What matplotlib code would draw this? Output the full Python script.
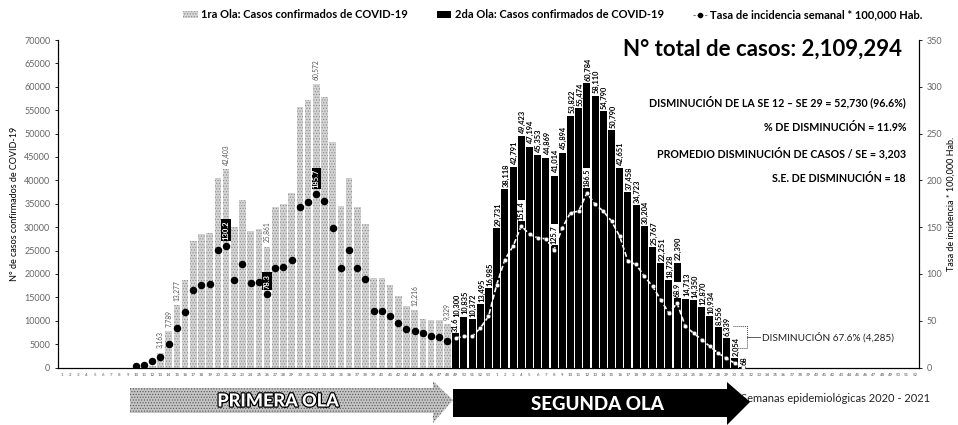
import numpy as np
import matplotlib
matplotlib.use("Agg")
import matplotlib.pyplot as plt
from matplotlib.patches import Patch, Polygon
from matplotlib.lines import Line2D
import matplotlib.patheffects as pe

plt.rcParams["font.family"] = ["Lato", "DejaVu Sans"]
plt.rcParams["hatch.linewidth"] = 0.5

# semanas epidemiologicas 2020 (1-53) y 2021 (1-52)
weeks = [str(w) for w in range(1, 54)] + [str(w) for w in range(1, 53)]
n = len(weeks)

# 1ra ola: SE 10-48 de 2020 (indice 9-47)
wave1_start = 9
wave1_cases = [50, 150, 400, 3163, 7789, 13277, 18800, 27000, 28600, 28800,
               40400, 42403, 30100, 35700, 29100, 29500, 25861, 34200, 34900,
               37300, 55600, 57200, 60572, 57900, 48100, 34500, 40400, 34200,
               30600, 19200, 19200, 17700, 15200, 13100, 12216, 10400, 10200,
               10200, 9329]
wave1_rate = [2.1, 2.9, 6.9, 11.1, 25.4, 42.2, 59.0, 83.3, 88.6, 89.4,
              125.1, 130.2, 94.0, 110.8, 90.4, 91.8, 78.3, 106.5, 107.6,
              115.4, 171.4, 176.8, 185.7, 177.9, 149.3, 106.5, 125.4, 106.5,
              94.7, 60.0, 60.0, 55.4, 47.5, 41.1, 38.6, 36.8, 33.2, 32.5, 28.7]
wave1_labels = {3: "3,163", 4: "7,789", 5: "13,277", 11: "42,403",
                16: "25,861", 22: "60,572", 34: "12,216", 38: "9,329"}
wave1_rate_labels = {11: "130.2", 16: "78.3", 22: "185.7"}

# 2da ola: SE 49-2020 a SE 31-2021 (indice 48-83)
wave2_start = 48
wave2_cases = [10300, 10835, 10372, 13495, 16985, 29731, 38118, 42791, 49423,
               47194, 45353, 44869, 41014, 45894, 53822, 55474, 60784, 58110,
               54790, 50790, 42651, 37458, 34723, 30204, 25767, 22251, 18728,
               22390, 14713, 14350, 12870, 10934, 8556, 6339, 2054, 68]
wave2_rate = [31.6, 33.2, 33.2, 42.2, 54.6, 88.6, 115.4, 129.6, 151.4, 142.2,
              138.6, 137.5, 125.7, 149.3, 165.4, 167.1, 186.5, 174.3, 167.1,
              156.4, 140.3, 113.6, 110.1, 97.5, 86.8, 72.5, 58.0, 68.9, 44.0,
              36.8, 29.7, 22.5, 15.4, 10.0, 4.7, 1.0]
wave2_rate_labels = {0: "31.6", 8: "151.4", 12: "125.7", 16: "186.5", 27: "68.9"}

x1 = np.arange(wave1_start, wave1_start + len(wave1_cases))
x2 = np.arange(wave2_start, wave2_start + len(wave2_cases))

fig = plt.figure(figsize=(9.58, 4.25), dpi=100)
ax = fig.add_axes([58 / 958, 1 - 367.5 / 425, (919 - 58) / 958, (367.5 - 40) / 425])

ax.bar(x1, wave1_cases, width=0.8, color="#d4d4d4", hatch="......",
       edgecolor="#8a8a8a", linewidth=0, zorder=2)
ax.bar(x2, wave2_cases, width=0.85, color="black", linewidth=0, zorder=2)

for i, lab in wave1_labels.items():
    ax.text(x1[i], wave1_cases[i] + 900, lab, rotation=90, ha="center",
            va="bottom", fontsize=4.8, color="#555555", zorder=5)
for i, v in enumerate(wave2_cases):
    ax.text(x2[i] + 0.15, v + 500, f"{v:,}", rotation=90, ha="center",
            va="bottom", fontsize=5.4, color="black", fontweight="bold", zorder=5)

ax.set_xlim(-0.5, n - 0.5)
ax.set_ylim(0, 70000)
ax.set_yticks(np.arange(0, 70001, 5000))
ax.set_xticks(np.arange(n))
ax.set_xticklabels(weeks, fontsize=3.2, color="#555555")
ax.tick_params(axis="x", length=0, pad=4)
ax.tick_params(axis="y", length=2, labelsize=6.5, labelcolor="#666666", width=0.6)
ax.spines["top"].set_visible(False)
for s in ["left", "bottom", "right"]:
    ax.spines[s].set_linewidth(0.8)
ax.set_ylabel("N° de casos confirmados de COVID-19", fontsize=6.5, labelpad=4)

ax2 = ax.twinx()
ax2.set_ylim(0, 350)
ax2.set_yticks(np.arange(0, 351, 50))
ax2.tick_params(axis="y", length=2, labelsize=6.5, labelcolor="#666666", width=0.6)
ax2.spines["top"].set_visible(False)
ax2.spines["right"].set_linewidth(0.8)
ax2.set_ylabel("Tasa de incidencia * 100,000 Hab.", fontsize=6.5, rotation=90,
               labelpad=3)

ax2.plot(x1, wave1_rate, linestyle="none", marker="o", markersize=4.4,
         color="black", zorder=6)
ax2.plot(x2, wave2_rate, linestyle=(0, (3, 1.5)), linewidth=1.2, color="white",
         marker="o", markersize=3, markerfacecolor="white",
         markeredgecolor="#444444", markeredgewidth=0.3, zorder=6)

for i, lab in wave1_rate_labels.items():
    ax2.text(x1[i], wave1_rate[i] + 6, lab, rotation=90, ha="center", va="bottom",
             fontsize=5.5, color="white", fontweight="bold", zorder=7,
             bbox=dict(boxstyle="square,pad=0.15", fc="black", ec="none"))
for i, lab in wave2_rate_labels.items():
    ax2.text(x2[i], wave2_rate[i] + 6, lab, rotation=90, ha="center", va="bottom",
             fontsize=5.2, color="black", fontweight="bold", zorder=7,
             bbox=dict(boxstyle="square,pad=0.15", fc="white", ec="none"))

# textos de resumen
fig.text(902 / 958, 1 - 49 / 425, "N° total de casos: 2,109,294", ha="right",
         va="center", fontsize=16, fontweight="bold")
info = ["DISMINUCIÓN DE LA SE 12 – SE 29 = 52,730 (96.6%)",
        "% DE DISMINUCIÓN = 11.9%",
        "PROMEDIO DISMINUCIÓN DE CASOS / SE = 3,203",
        "S.E. DE DISMINUCIÓN = 18"]
for k, t in enumerate(info):
    fig.text(906 / 958, 1 - (102 + 25.5 * k) / 425, t, ha="right", va="center",
             fontsize=7.7, fontweight="bold")

# corchete de disminucion
ov = fig.add_axes([0, 0, 1, 1], zorder=10)
ov.set_xlim(0, 958)
ov.set_ylim(425, 0)
ov.axis("off")
ov.plot([733, 747, 747, 733], [326, 326, 348, 348], color="#444444", lw=0.7,
        linestyle=(0, (1, 1)))
ov.plot([747, 760], [337, 337], color="#444444", lw=0.6)
ov.text(762, 337, "DISMINUCIÓN 67.6% (4,285)", fontsize=7.2, va="center",
        ha="left", color="#222222")

# eje x (parcialmente cubierto por la flecha)
ov.text(930, 398, "Semanas epidemiológicas 2020 - 2021", fontsize=8,
        ha="right", va="center", color="#222222", zorder=1)

# flechas de olas
arrow1 = Polygon([[130, 388], [433, 388], [433, 381], [453, 400], [433, 423],
                  [433, 413], [130, 413]], closed=True, facecolor="#c4c4c4",
                 hatch="......", edgecolor="#555555", linewidth=0, zorder=3)
ov.add_patch(arrow1)
ov.text(278, 401, "PRIMERA OLA", fontsize=13, fontweight="black", color="white",
        ha="center", va="center", zorder=4,
        path_effects=[pe.withStroke(linewidth=1.8, foreground="black")])
arrow2 = Polygon([[453, 389], [727, 389], [727, 382], [750, 402], [727, 425],
                  [727, 417], [453, 417]], closed=True, facecolor="black",
                 linewidth=0, zorder=3)
ov.add_patch(arrow2)
ov.text(597, 404, "SEGUNDA OLA", fontsize=13.5, fontweight="black", color="white",
        ha="center", va="center", zorder=4)

handles = [Patch(facecolor="#d4d4d4", hatch="......", edgecolor="#8a8a8a", linewidth=0),
           Patch(facecolor="black"),
           Line2D([0], [0], color="#777777", linestyle=(0, (2, 1.5)), lw=0.8,
                  marker="o", markersize=3, markerfacecolor="black",
                  markeredgecolor="black")]
labels = ["1ra Ola: Casos confirmados de COVID-19",
          "2da Ola: Casos confirmados de COVID-19",
          "Tasa de incidencia semanal * 100,000 Hab."]
fig.legend(handles, labels, loc="center", bbox_to_anchor=(553 / 958, 1 - 15 / 425),
           ncol=3, frameon=False, handlelength=1.3,
           handleheight=0.6, columnspacing=2.6, handletextpad=0.3,
           prop={"weight": "bold", "size": 8})

fig.savefig("out.png", dpi=100)
